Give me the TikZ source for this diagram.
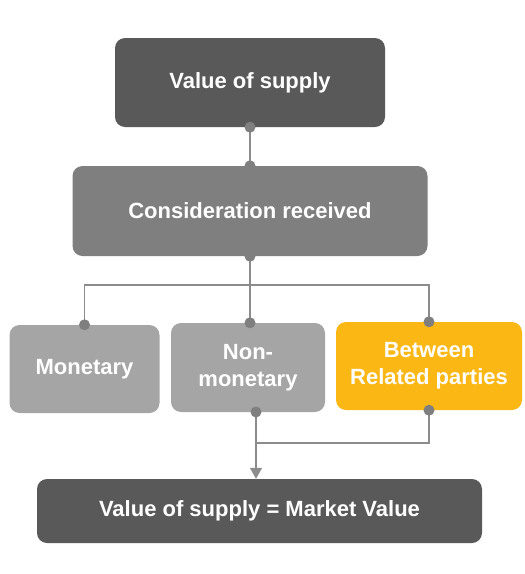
\documentclass[tikz,border=0pt]{standalone}
\usepackage{fontspec}
\setmainfont{Liberation Sans}
\usetikzlibrary{arrows.meta,calc}
\definecolor{darkbox}{HTML}{595959}
\definecolor{midbox}{HTML}{7F7F7F}
\definecolor{lightbox}{HTML}{A5A5A5}
\definecolor{goldbox}{HTML}{FBB714}
\definecolor{linec}{HTML}{8C8C8C}
\definecolor{dotc}{HTML}{7F7F7F}
\tikzset{
  box/.style={rectangle, rounded corners=10pt, text=white, inner sep=0pt,
    font=\fontsize{22}{27}\selectfont\bfseries, align=center},
  conn/.style={draw=linec, line width=1.4pt},
  arr/.style={conn, -{Triangle[width=12pt,length=11pt]}},
  dotmark/.style={fill=dotc}
}
\begin{document}
\begin{tikzpicture}[x=1pt,y=-1pt]
\useasboundingbox (0,0) rectangle (525,574);
\node[box, fill=darkbox, minimum width=270pt, minimum height=89pt] (top) at (250,82.5) {Value of supply};
\node[box, fill=midbox, minimum width=355pt, minimum height=90pt] (cons) at (250,211) {Consideration received};
\node[box, fill=lightbox, minimum width=150pt, minimum height=88pt] (mon) at (84.5,369) {Monetary};
\node[box, fill=lightbox, minimum width=154pt, minimum height=89pt] (nonm) at (248,367.5) {Non-\\monetary};
\node[box, fill=goldbox, minimum width=186pt, minimum height=88pt] (rel) at (429,366) {Between\\Related parties};
\node[box, fill=darkbox, minimum width=445pt, minimum height=64pt] (res) at (259.5,511) {Value of supply = Market Value};
\coordinate (bar) at (250,285);
\coordinate (nb) at (256,412);
\coordinate (join) at (256,443);
% connectors
\draw[conn] (top.south) -- (cons.north);
\draw[conn] (cons.south) -- (nonm.north -| cons.south);
\draw[conn] (mon.north) |- (bar) -| (rel.north);
\draw[conn] (rel.south) |- (join);
\draw[arr] (nb) -- (nb |- res.north);
% dots
\fill[dotmark] (top.south) circle (5.5pt);
\fill[dotmark] (cons.north) circle (5.5pt);
\fill[dotmark] (cons.south) circle (5.5pt);
\fill[dotmark] (mon.north) circle (5.5pt);
\fill[dotmark] (nonm.north -| cons.south) circle (5.5pt);
\fill[dotmark] (rel.north) circle (5.5pt);
\fill[dotmark] (nb) circle (5.5pt);
\fill[dotmark] (rel.south) circle (5.5pt);
\end{tikzpicture}
\end{document}
